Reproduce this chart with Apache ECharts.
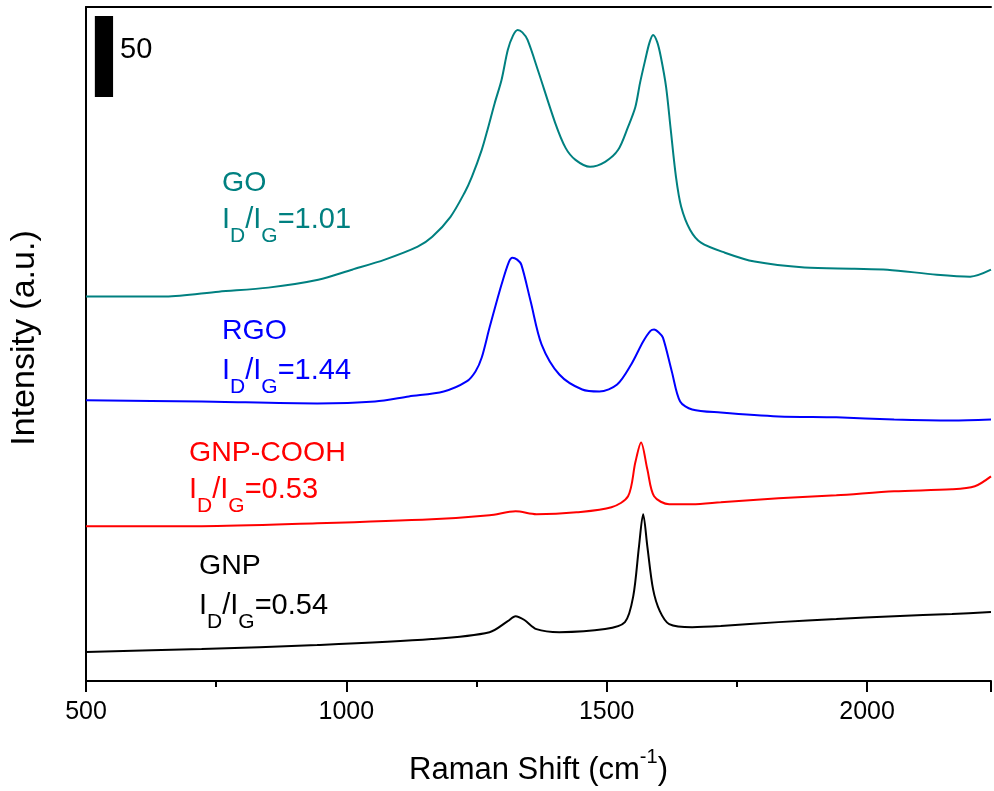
<!DOCTYPE html>
<html>
<head>
<meta charset="utf-8">
<script src="https://cdn.jsdelivr.net/npm/echarts@6/dist/echarts.min.js"></script>
<style>html,body{margin:0;padding:0;background:#fff;}#c{width:994px;height:791px;}</style>
</head>
<body>
<div id="c"></div>
<script>
// ---- data (Raman shift cm^-1, intensity a.u.) ----
const goData = [[500,237.7],[653,237.7],[755,240.7],[850,243.2],[946,248.1],[1011,254.3],[1074,260.5],[1137,268.5],[1165,274.6],[1200,287.0],[1227,301.9],[1241,311.7],[1260,328.4],[1271,340.7],[1285,357.4],[1298,371.6],[1310,390.1],[1320,399.0],[1329,402.5],[1338,401.0],[1348,396.3],[1369,376.5],[1401,345.1],[1421,329.6],[1440,322.2],[1468,317.9],[1497,321.0],[1522,328.4],[1541,342.6],[1555,354.9],[1564,369.8],[1574,384.0],[1582,394.5],[1589,399.4],[1597,395.0],[1604,385.8],[1614,367.3],[1623,340.7],[1633,311.7],[1643,293.2],[1660,279.0],[1681,271.0],[1727,264.8],[1784,259.3],[1880,255.6],[1976,254.9],[2039,254.3],[2134,251.2],[2198,250.0],[2238,254.3]];
const rgoData = [[500,173.5],[722,172.8],[944,171.6],[1055,172.8],[1120,175.9],[1187,179.0],[1231,185.2],[1248,191.4],[1260,200.0],[1275,218.5],[1298,245.1],[1312,259.0],[1319,261.7],[1328,260.5],[1336,257.4],[1354,234.6],[1375,208.0],[1409,189.5],[1453,180.2],[1486,179.0],[1520,183.3],[1547,195.7],[1570,209.9],[1584,216.5],[1591,217.3],[1600,215.5],[1608,212.3],[1625,191.4],[1641,172.8],[1664,167.9],[1719,166.0],[1830,163.6],[1941,163.0],[2052,161.7],[2163,161.1],[2238,161.7]];
const gnpCoohData = [[500,95.7],[722,95.7],[944,97.5],[1164,100.0],[1275,102.5],[1325,104.9],[1365,103.1],[1442,104.3],[1509,107.4],[1541,114.2],[1555,135.2],[1566,147.5],[1578,130.9],[1591,114.2],[1620,109.3],[1664,109.3],[1719,110.5],[1830,113.0],[1941,114.8],[2052,117.3],[2163,118.5],[2207,120.4],[2238,126.5]];
const gnpData = [[500,17.9],[722,19.8],[944,22.2],[1164,25.9],[1275,30.2],[1310,37.0],[1325,40.1],[1342,37.7],[1365,32.1],[1409,30.2],[1497,32.1],[1535,36.4],[1551,52.5],[1562,83.3],[1570,103.1],[1578,83.3],[1589,56.8],[1602,43.2],[1620,35.2],[1664,33.3],[1719,34.0],[1830,36.4],[1941,38.3],[2052,40.1],[2163,41.4],[2238,42.6]];
const seriesNames = ['GO','RGO','GNP-COOH','GNP'];
const ratios = ['1.01','1.44','0.53','0.54'];
const scaleBar = [[517, 552, 361.1, 411.1]]; // x0, x1, y0, y1 ; height = 50 a.u.
const scaleBarLabel = '50';
const xTickLabels = [500, 1000, 1500, 2000];

// ---- styling ----
const FONT = "'Liberation Sans', Arial, sans-serif";
const colors = ['#008080', '#0000ff', '#ff0000', '#000000'];
const labelPos = [ // left x, top y of line1, top y of line2 (pixels)
  [222, 169, 205],
  [222, 317, 356],
  [189, 439, 475],
  [199, 552, 591]
];

const graphics = [];
seriesNames.forEach((n, i) => {
  graphics.push({
    type: 'text', x: labelPos[i][0], y: labelPos[i][1],
    style: { text: n, fill: colors[i], font: "28.5px " + FONT, verticalAlign: 'top' }
  });
  graphics.push({
    type: 'text', x: labelPos[i][0], y: labelPos[i][2],
    style: {
      text: '{m|I}{s|D}{m|/I}{s|G}{m|=' + ratios[i] + '}',
      verticalAlign: 'top',
      rich: {
        m: { fontSize: 29, fontFamily: FONT, fill: colors[i], color: colors[i], padding: [0, 0, 13, 0], verticalAlign: 'bottom' },
        s: { fontSize: 21, fontFamily: FONT, fill: colors[i], color: colors[i], verticalAlign: 'bottom' }
      }
    }
  });
});

const lineSeries = [goData, rgoData, gnpCoohData, gnpData].map((d, i) => ({
  type: 'line', name: seriesNames[i], data: d, showSymbol: false, smooth: 0.3,
  lineStyle: { color: colors[i], width: 2 }, itemStyle: { color: colors[i] }, z: 3
}));

const chart = echarts.init(document.getElementById('c'), null, { renderer: 'canvas' });
chart.setOption({
  animation: false,
  backgroundColor: '#fff',
  grid: { left: 86, right: 0, top: 7, bottom: 109, containLabel: false },
  xAxis: [{
    type: 'value', min: 500, max: 2238, interval: 500,
    axisLine: { show: true, lineStyle: { color: '#000', width: 2 } },
    axisTick: { show: true, length: 11, lineStyle: { color: '#000', width: 2 } },
    minorTick: { show: true, splitNumber: 2, length: 6, lineStyle: { color: '#000', width: 2 } },
    splitLine: { show: false }, minorSplitLine: { show: false },
    axisLabel: {
      color: '#000', fontSize: 25, fontFamily: FONT, margin: 19,
      formatter: v => (xTickLabels.indexOf(v) >= 0 ? String(v) : '')
    },
    name: '{n|Raman Shift (cm}{sup|-1}{n|)}',
    nameLocation: 'middle', nameGap: 66,
    nameTextStyle: {
      rich: {
        n: { fontSize: 31, fontFamily: FONT, color: '#000', padding: [8, 0, 0, 0], verticalAlign: 'bottom' },
        sup: { fontSize: 20, fontFamily: FONT, color: '#000', verticalAlign: 'top' }
      }
    }
  }, {
    type: 'value', min: 500, max: 2238, position: 'top',
    axisLine: { show: true, lineStyle: { color: '#000', width: 2 } },
    axisTick: { show: false }, axisLabel: { show: false }, splitLine: { show: false }
  }],
  yAxis: {
    type: 'value', min: 0, max: 416.7,
    axisLine: { show: true, lineStyle: { color: '#000', width: 2 } },
    axisTick: { show: false }, axisLabel: { show: false }, splitLine: { show: false },
    name: 'Intensity (a.u.)', nameLocation: 'middle', nameGap: 44, nameRotate: 90,
    nameTextStyle: { fontSize: 34, fontFamily: FONT, color: '#000', padding: [0, 0, 0, 12] }
  },
  graphic: graphics,
  series: lineSeries.concat([{
    type: 'custom', data: scaleBar, z: 4,
    renderItem: function (params, api) {
      const p0 = api.coord([api.value(0), api.value(3)]);
      const p1 = api.coord([api.value(1), api.value(2)]);
      return {
        type: 'group', children: [
          { type: 'rect', shape: { x: p0[0], y: p0[1], width: p1[0] - p0[0], height: p1[1] - p0[1] }, style: { fill: '#000' } },
          { type: 'text', x: p1[0] + 7, y: p0[1] + 34, style: { text: scaleBarLabel, font: '29px ' + FONT, fill: '#000', verticalAlign: 'middle' } }
        ]
      };
    },
    encode: { x: [0, 1], y: [2, 3] }
  }])
});
</script>
</body>
</html>
